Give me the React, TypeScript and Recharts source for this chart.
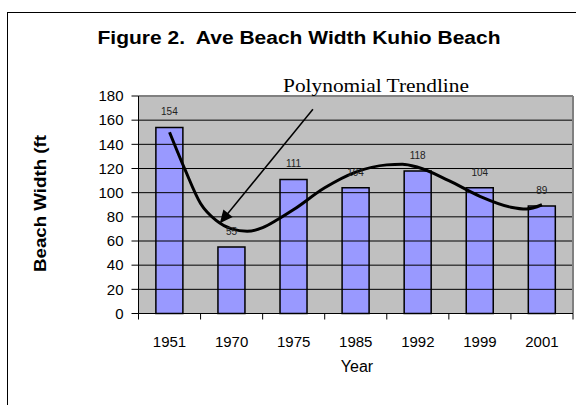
import React from 'react';
import {
  ComposedChart,
  Bar,
  Line,
  XAxis,
  YAxis,
  LabelList,
  ReferenceLine,
  ReferenceArea,
} from 'recharts';

// ---- data ----
const years = ['1951', '1970', '1975', '1985', '1992', '1999', '2001'];
const widths = [154, 55, 111, 104, 118, 104, 89];
const yTicks = [0, 20, 40, 60, 80, 100, 120, 140, 160, 180];

// polynomial trendline (x = category index)
const trendPos = [0, 0.25, 0.5, 0.75, 1, 1.25, 1.5, 1.75, 2, 2.5, 3, 3.5, 3.75, 4, 4.5, 5, 5.5, 5.75, 6];
const trendVal = [150, 119, 91, 77, 70, 68, 71, 78, 86, 104, 117, 123, 123.5, 121, 110, 97, 88, 86.5, 90];

// annotation arrow (category index, value)
const arrowFrom = { x: 2.31, y: 169 };
const arrowTo = { x: 0.81, y: 74.6 };

const title = 'Figure 2.  Ave Beach Width Kuhio Beach';
const yLabel = 'Beach Width (ft';
const xLabel = 'Year';
const noteText = 'Polynomial Trendline';

const barData = years.map((year, i) => ({ year, w: widths[i] }));
const trendData = trendPos.map((x, i) => ({ x, v: trendVal[i] }));
const boundaryTicks = years.map((_, i) => i - 0.5).concat([years.length - 0.5]);
const centerTicks = years.map((_, i) => i);
const numTicks = [...boundaryTicks, ...centerTicks].sort((a, b) => a - b);
const X_MIN = -0.5;
const X_MAX = years.length - 0.5;
const Y_MAX = 180;

const FONT = 'Arial, "Liberation Sans", sans-serif';

const XTick = (props: any) => {
  const { x, y, payload } = props;
  const v = payload.value as number;
  if (Math.abs(v - Math.round(v)) > 0.01) {
    return <line x1={x} y1={y} x2={x} y2={y + 6} stroke="#000" strokeWidth={1} />;
  }
  return (
    <text x={x} y={y + 33} textAnchor="middle" fontSize={15} fontFamily={FONT} fill="#000">
      {years[Math.round(v)]}
    </text>
  );
};

const ArrowShape = (props: any) => {
  const { x1, y1, x2, y2 } = props;
  const dx = x2 - x1;
  const dy = y2 - y1;
  const len = Math.sqrt(dx * dx + dy * dy) || 1;
  const ux = dx / len;
  const uy = dy / len;
  const hl = 13;
  const hw = 6;
  const bx = x2 - ux * hl;
  const by = y2 - uy * hl;
  const px = -uy;
  const py = ux;
  return (
    <g>
      <line x1={x1} y1={y1} x2={bx + ux * 2} y2={by + uy * 2} stroke="#000" strokeWidth={1.5} />
      <polygon
        points={`${x2},${y2} ${bx + px * hw},${by + py * hw} ${bx - px * hw},${by - py * hw}`}
        fill="#000"
      />
    </g>
  );
};

export default function App() {
  return (
    <div
      style={{
        position: 'absolute',
        left: 0,
        top: 0,
        width: 576,
        height: 405,
        overflow: 'hidden',
        background: '#fff',
      }}
    >
      <div
        style={{
          position: 'absolute',
          left: 7,
          top: 12,
          width: 640,
          height: 460,
          border: '1.5px solid #000',
        }}
      />
      <div style={{ position: 'absolute', left: 0, top: 0 }}>
        <ComposedChart
          width={576}
          height={405}
          data={barData}
          margin={{ top: 96, right: 3, left: 78.5, bottom: 31.5 }}
          barCategoryGap="28%"
        >
          <XAxis xAxisId="cat" dataKey="year" hide height={0} />
          <XAxis
            xAxisId="num"
            type="number"
            dataKey="x"
            domain={[X_MIN, X_MAX]}
            ticks={numTicks}
            interval={0}
            allowDataOverflow
            tickLine={false}
            tickSize={0}
            tickMargin={0}
            axisLine={{ stroke: '#000', strokeWidth: 1 }}
            tick={<XTick />}
            height={60}
          />
          <YAxis
            domain={[0, Y_MAX]}
            ticks={yTicks}
            interval={0}
            width={60}
            tickSize={7}
            tickMargin={8}
            axisLine={{ stroke: '#000', strokeWidth: 1 }}
            tickLine={{ stroke: '#000', strokeWidth: 1 }}
            tick={{ fontSize: 15, fill: '#000', fontFamily: FONT }}
          />
          <ReferenceArea
            xAxisId="num"
            x1={X_MIN}
            x2={X_MAX}
            y1={0}
            y2={Y_MAX}
            fill="#C0C0C0"
            fillOpacity={1}
            stroke="none"
            ifOverflow="visible"
          />
          {yTicks.slice(1, -1).map((t) => (
            <ReferenceLine key={t} y={t} xAxisId="num" stroke="#000" strokeWidth={1} />
          ))}
          <ReferenceLine y={Y_MAX} xAxisId="num" stroke="#808080" strokeWidth={2} />
          <ReferenceLine x={X_MAX} xAxisId="num" stroke="#808080" strokeWidth={2} ifOverflow="visible" />
          <Bar
            xAxisId="cat"
            dataKey="w"
            fill="#9999FF"
            stroke="#000"
            strokeWidth={1.5}
            isAnimationActive={false}
          >
            <LabelList
              dataKey="w"
              position="top"
              offset={12}
              fontSize={10}
              fill="#222"
              fontFamily={FONT}
            />
          </Bar>
          <Line
            xAxisId="num"
            data={trendData}
            dataKey="v"
            type="monotone"
            stroke="#000"
            strokeWidth={3}
            dot={false}
            activeDot={false}
            isAnimationActive={false}
          />
          <ReferenceLine
            xAxisId="num"
            segment={[arrowFrom, arrowTo]}
            ifOverflow="visible"
            stroke="#000"
            shape={ArrowShape}
          />
        </ComposedChart>
      </div>
      <svg
        width={576}
        height={405}
        style={{ position: 'absolute', left: 0, top: 0, pointerEvents: 'none' }}
      >
        <text
          x={299}
          y={44}
          textAnchor="middle"
          fontSize={18}
          fontWeight="bold"
          fontFamily={FONT}
          fill="#000"
          textLength={403}
          lengthAdjust="spacingAndGlyphs"
          style={{ whiteSpace: 'pre' }}
        >
          {title}
        </text>
        <text
          x={0}
          y={0}
          transform="translate(46,203.5) rotate(-90)"
          textAnchor="middle"
          fontSize={17}
          fontWeight="bold"
          fontFamily={FONT}
          fill="#000"
          textLength={137}
          lengthAdjust="spacingAndGlyphs"
        >
          {yLabel}
        </text>
        <text x={357} y={372} textAnchor="middle" fontSize={16} fontFamily={FONT} fill="#000">
          {xLabel}
        </text>
        <text
          x={376}
          y={92}
          textAnchor="middle"
          fontSize={19}
          fontFamily='"Liberation Serif", "Times New Roman", serif'
          fill="#000"
          textLength={186}
          lengthAdjust="spacingAndGlyphs"
        >
          {noteText}
        </text>
      </svg>
    </div>
  );
}
